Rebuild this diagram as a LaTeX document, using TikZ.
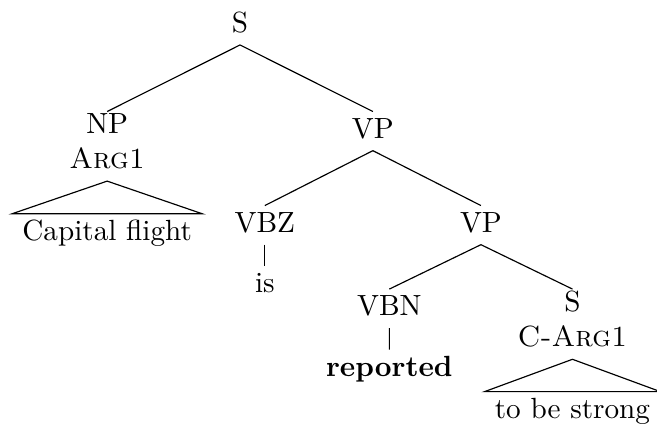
\documentclass[tikz,border=0pt]{standalone}
\usepackage{tikz}
\usetikzlibrary{trees}

\begin{document}
\begin{tikzpicture}[anchor=north,
      every node/.style={inner xsep=3.33pt, inner ysep=0.5pt,
        execute at begin node=\strut, execute at end node=\strut},
      parent anchor=south, child anchor=north,
      level 1/.style={sibling distance=91pt, level distance=29.5pt},
      level 2/.style={sibling distance=74pt, level distance=25.5pt},
      level 3/.style={sibling distance=62.7pt, level distance=21.9pt},
      unary/.style={level distance=14pt},
      roofed/.style={level distance=23.1pt}]
  \useasboundingbox (-82.2pt,2pt) rectangle (142.8pt,-143.9pt);
  \node (s) {S}
    child{node[align=center] (np) {NP\\\textsc{Arg1}}
      child[roofed]{node (cf) {Capital flight} edge from parent[draw=none]}
    }
    child{node (vp) {VP}
      child{node (vbz) {VBZ}
        child[unary]{node (is) {is}}
      }
      child{node (vpb) {VP}
        child{node (vbn) {VBN}
          child[unary]{node (rep) {\textbf{reported}}}
        }
        child{node[align=center] (sb) {S\\\textsc{C-Arg1}}
          child[roofed]{node (tbs) {to be strong} edge from parent[draw=none]}
        }
      }
    };
  % roofs over the leaves
  \draw (np.south) -- (cf.north west) -- (cf.north east) -- cycle;
  \draw (sb.south) -- (tbs.north west) -- (tbs.north east) -- cycle;
\end{tikzpicture}
\end{document}
